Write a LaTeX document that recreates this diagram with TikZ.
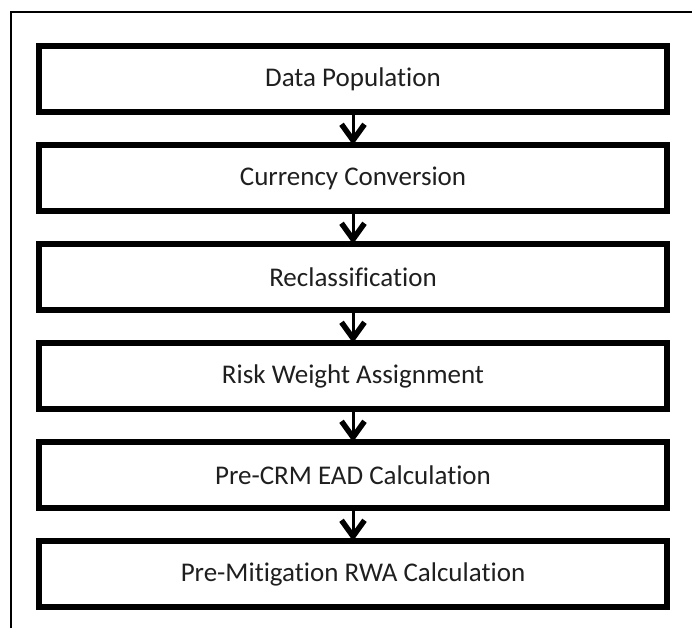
\documentclass[tikz,border=0pt]{standalone}
\usepackage{fontspec}
\setmainfont[Ligatures=NoCommon]{Carlito}
\usetikzlibrary{arrows.meta}
\begin{document}
\begin{tikzpicture}[x=1pt,y=-1pt,
  stepbox/.style={draw=black, line width=6pt, minimum width=628pt, minimum height=66pt,
    inner sep=0pt, outer sep=0pt, font=\fontsize{27}{32}\selectfont, text=black!88},
  flow/.style={line width=3pt, -{Straight Barb[length=16pt,width=23pt,line width=5.5pt]}}]
\useasboundingbox (0,0) rectangle (692,628);
\coordinate (fb) at (11,628);
\coordinate (fc) at (11,12);
\coordinate (fr) at (692,12);
\draw[line width=2pt] (fb) -- (fc) -- (fr);
\node[stepbox] (s1) at (353,79) {Data Population};
\node[stepbox] (s2) at (353,178) {Currency Conversion};
\node[stepbox] (s3) at (353,277) {Reclassification};
\node[stepbox] (s4) at (353,376) {Risk Weight Assignment};
\node[stepbox] (s5) at (353,475) {Pre-CRM EAD Calculation};
\node[stepbox] (s6) at (353,574) {Pre-Mitigation RWA Calculation};
\foreach \a/\b in {s1/s2,s2/s3,s3/s4,s4/s5,s5/s6}
  \draw[flow] (\a.south) -- (\b.north);
\end{tikzpicture}
\end{document}
